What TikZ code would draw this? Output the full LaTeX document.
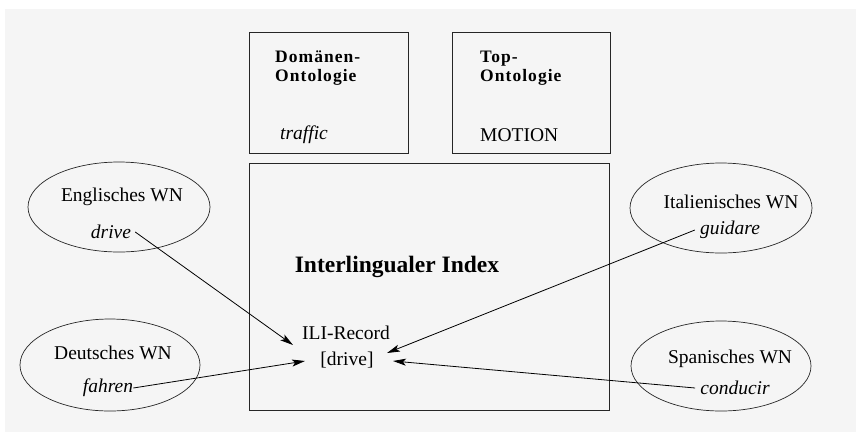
\documentclass[tikz,border=0pt]{standalone}
\usepackage{fontspec}
\setmainfont{Liberation Serif}
\newfontfamily\hdfont[LetterSpace=6]{Liberation Serif}
\usetikzlibrary{arrows.meta}
\begin{document}
\begin{tikzpicture}[x=1pt,y=-1pt,
  box/.style={draw=black!85,line width=0.9pt},
  wn/.style={draw=black!85,line width=0.7pt},
  lbl/.style={font=\fontsize{19.5}{22}\selectfont,inner sep=0pt},
  word/.style={font=\fontsize{19.5}{22}\selectfont\itshape,inner sep=0pt},
  hd/.style={font=\hdfont\fontsize{17.5}{19}\selectfont\bfseries,inner sep=0pt,anchor=base west},
  link/.style={line width=0.8pt,-{Stealth[length=13pt,width=7pt,inset=3pt]}}]
\useasboundingbox (0,0) rectangle (856,432);
\fill[white] (0,0) rectangle (856,432);
\fill[black!4] (5,9) rectangle (856,432);
% boxes
\draw[box] (249,32) rectangle (408,153);
\draw[box] (452,32) rectangle (610,153);
\draw[box] (249,163) rectangle (609,410);
\node[hd] (dom1) at (275,62) {Domänen-};
\node[hd] (dom2) at (275,81) {Ontologie};
\node[word,anchor=west] (traffic) at (280,135) {traffic};
\node[hd] (top1) at (480,62) {Top-};
\node[hd] (top2) at (480,81) {Ontologie};
\node[lbl,anchor=west] (motion) at (480,135) {MOTION};
\node[font=\fontsize{23.5}{28}\selectfont\bfseries,inner sep=0pt] (ili) at (397,267) {Interlingualer Index};
\node[lbl] (rec) at (346,333) {ILI-Record};
\node[lbl] (drv) at (347,360) {[drive]};
% ellipses
\draw[wn] (119,207) ellipse [x radius=91,y radius=45];
\draw[wn] (110,365) ellipse [x radius=90,y radius=46];
\draw[wn] (721,208) ellipse [x radius=91,y radius=45];
\draw[wn] (721,366) ellipse [x radius=90,y radius=45];
\node[lbl] (en) at (122,197) {Englisches WN};
\node[word] (en2) at (111,232) {drive};
\node[lbl] (de) at (113,353) {Deutsches WN};
\node[word] (de2) at (108,388) {fahren};
\node[lbl] (it) at (731,202) {Italienisches WN};
\node[word] (it2) at (730,230) {guidare};
\node[lbl] (es) at (730,359) {Spanisches WN};
\node[word] (es2) at (735,388) {conducir};
% arrow ends
\coordinate (pEn) at (293,345);
\coordinate (pDe) at (305,361);
\coordinate (pIt) at (387,353);
\coordinate (pEs) at (393,361);
\draw[link] ([xshift=4pt]en2.east) -- (pEn);
\draw[link] (de2.east) -- (pDe);
\draw[link] ([xshift=-5pt]it2.west) -- (pIt);
\draw[link] ([xshift=-5pt]es2.west) -- (pEs);
\end{tikzpicture}
\end{document}
